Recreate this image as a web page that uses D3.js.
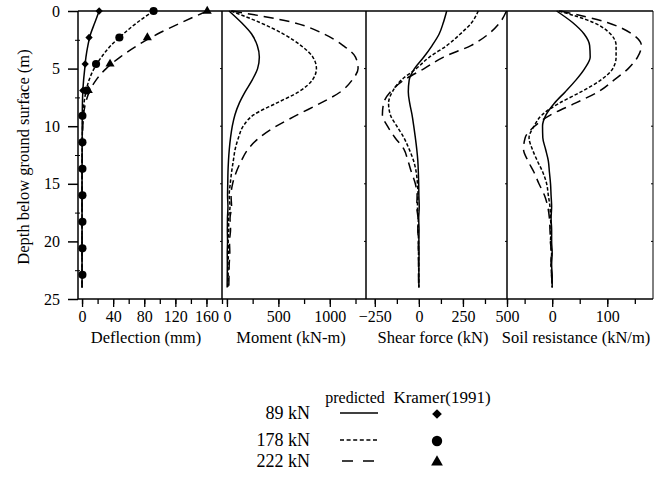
<!DOCTYPE html>
<html>
<head>
<meta charset="utf-8">
<script src="https://cdn.jsdelivr.net/npm/d3@7"></script>
<style>
  body { margin: 0; background: #fff; }
</style>
</head>
<body>
<svg id="chart" width="670" height="481"></svg>
<script>
// Depth (m) of the predicted profiles
const depths = [0, 1, 2, 3, 4, 5, 6, 7, 8, 9, 10, 11, 12, 13, 14, 15, 16, 17, 18, 19, 20, 21, 22, 23, 24];

// Deflection (mm)
const defl89 = [22, 16.5, 11, 7.5, 5, 3.5, 2, 1, 0.5, 0.3, 0.2, 0.2, 0.1, 0.1, 0, 0, 0, 0, 0, 0, 0, 0, 0, 0, 0];
const defl178 = [92, 71, 53, 37, 25, 15.5, 9, 5, 2.5, 1.2, 0.6, 0.3, 0.2, 0.1, 0, 0, 0, 0, 0, 0, 0, 0, 0, 0, 0];
const defl222 = [161, 128, 97, 71, 49, 31, 18, 9.5, 4.5, 2, 1, 0.5, 0.3, 0.2, 0.1, 0, 0, 0, 0, 0, 0, 0, 0, 0, 0];

// Moment (kN-m)
const mom89 = [20, 140, 240, 295, 315, 298, 245, 178, 120, 78, 52, 35, 23, 15, 10, 8, 6, 10, 5, 4, 6, 3, 4, 3, 2];
const mom178 = [40, 320, 550, 720, 835, 870, 830, 700, 480, 262, 158, 112, 80, 62, 45, 32, 22, 30, 15, 18, 12, 15, 10, 12, 8];
const mom222 = [50, 645, 943, 1130, 1250, 1275, 1217, 1107, 910, 688, 480, 315, 205, 140, 90, 55, 40, 45, 30, 35, 25, 28, 22, 20, 18];

// Shear force (kN)
const shear89 = [158, 139, 115, 75, 28, -25, -55, -60, -52, -39, -29, -20, -12, -6, -3, -1, 0, 2, -1, 1, 0, 1, 0, 0, 0];
const shear178 = [337, 300, 235, 158, 60, -15, -100, -150, -172, -162, -125, -85, -55, -30, -15, -8, -5, -8, -3, -4, -2, -2, -1, -1, 0];
const shear222 = [497, 460, 395, 295, 140, 30, -85, -160, -200, -207, -178, -135, -85, -62, -42, -20, -10, -12, -5, -6, -3, -3, -2, -2, -1];

// Soil resistance (kN/m)
const soil89 = [8, 37, 58, 68, 69, 59, 43, 24, 4, -11, -17.5, -17, -12, -7, -5, -3, -2, -1, -2, -1, -1, 0, -1, 0, 0];
const soil178 = [12, 75, 106, 116, 116, 110, 88, 53, 13, -18, -33, -42, -36, -27, -17, -10, -7, -4, -3, -2, -3, -1, -2, -1, 0];
const soil222 = [15, 100, 145, 162, 155, 138, 112, 84, 42, -2, -32, -49, -52, -44, -33, -24, -14, -8, -5, -4, -3, -2, -2, -1, 0];

// Kramer (1991) measured deflections
const kramerDepths = [0, 2.3, 4.6, 6.9, 9.1, 11.4, 13.7, 16.0, 18.3, 20.6, 22.9];
const kramer89 = [22, 9, 4, 1];
const kramer178 = [92, 48, 18, 6, 0.5, 0.5, 0.5, 0.5, 0.5, 0.5, 0.5];
const kramer222 = [161, 84, 36, 8];

const loads = ["89 kN", "178 kN", "222 kN"];
const depthTicks = [0, 5, 10, 15, 20, 25];

const serif = "'Liberation Serif', 'DejaVu Serif', 'Times New Roman', serif";

const svg = d3.select("#chart").attr("font-family", serif);
const plotTop = 11, plotBottom = 299;

const y = d3.scaleLinear().domain([0, 25]).range([plotTop, plotBottom]);

const dashes = [null, "3.5,2", "10,6"];

const panels = [
  { x0: 78, x1: 222, domain: [-5.2, 180], ticks: d3.range(0, 181, 20), labels: [0, 40, 80, 120, 160],
    title: "Deflection (mm)", titleX: 146, series: [defl89, defl178, defl222] },
  { x0: 222, x1: 366, domain: [-48, 1352], ticks: d3.range(0, 1251, 250), labels: [0, 500, 1000],
    title: "Moment (kN-m)", titleX: 291, series: [mom89, mom178, mom222] },
  { x0: 366, x1: 507, domain: [-300, 500], ticks: d3.range(-250, 501, 125), labels: [-250, 0, 250, 500],
    title: "Shear force (kN)", titleX: 433, series: [shear89, shear178, shear222] },
  { x0: 507, x1: 653, domain: [-82, 183], ticks: [-50, 0, 50, 100, 150], labels: [0, 100],
    title: "Soil resistance (kN/m)", titleX: 576, series: [soil89, soil178, soil222] }
];

const line = d3.line().curve(d3.curveMonotoneY);

panels.forEach(p => {
  p.x = d3.scaleLinear().domain(p.domain).range([p.x0, p.x1]);

  // predicted curves
  p.series.forEach((vals, k) => {
    svg.append("path")
      .attr("d", line(depths.map((d, i) => [p.x(vals[i]), y(d)])))
      .attr("fill", "none")
      .attr("stroke", "#000")
      .attr("stroke-width", 1.5)
      .attr("stroke-dasharray", dashes[k]);
  });

  // minor and labelled ticks under the panel
  const minor = svg.append("g").attr("transform", `translate(0,${plotBottom})`)
    .call(d3.axisBottom(p.x).tickValues(p.ticks).tickSize(5).tickFormat(""));
  minor.select(".domain").remove();
  const major = svg.append("g").attr("transform", `translate(0,${plotBottom})`)
    .call(d3.axisBottom(p.x).tickValues(p.labels).tickSize(8).tickPadding(4).tickFormat(d3.format("d")))
    .attr("font-family", serif).attr("font-size", 16);
  major.select(".domain").remove();
  svg.selectAll(".tick line").attr("stroke-width", 1.3);
  major.selectAll("text").attr("fill", "#000");

  svg.append("text")
    .attr("x", p.titleX).attr("y", 343)
    .attr("text-anchor", "middle")
    .attr("font-size", 16.5)
    .text(p.title);

  // small marks on the panel's right edge
  [5, 10, 15, 20].forEach(d => {
    svg.append("line")
      .attr("x1", p.x1 - 2).attr("x2", p.x1)
      .attr("y1", y(d)).attr("y2", y(d))
      .attr("stroke", "#000").attr("stroke-width", 1);
  });
});

// Kramer markers (deflection panel)
const xd = panels[0].x;
const symDiamond = d3.symbol().type(d3.symbolDiamond2).size(34);
const symCircle = d3.symbol().type(d3.symbolCircle).size(52);
const symTriangle = d3.symbol().type(d3.symbolTriangle).size(36);

kramer89.forEach((v, i) => {
  svg.append("path").attr("d", symDiamond())
    .attr("transform", `translate(${xd(v)},${y(kramerDepths[i])})`);
});
kramer222.forEach((v, i) => {
  svg.append("path").attr("d", symTriangle())
    .attr("transform", `translate(${xd(v)},${y(kramerDepths[i])})`);
});
kramer178.forEach((v, i) => {
  svg.append("path").attr("d", symCircle())
    .attr("transform", `translate(${xd(v)},${y(kramerDepths[i])})`);
});

// frame
svg.append("line").attr("x1", 78).attr("x2", 653).attr("y1", plotTop).attr("y2", plotTop)
  .attr("stroke", "#000").attr("stroke-width", 1.5);
svg.append("line").attr("x1", 78).attr("x2", 653).attr("y1", plotBottom).attr("y2", plotBottom)
  .attr("stroke", "#000").attr("stroke-width", 1.5);
[78, 222, 366, 507, 653].forEach(xv => {
  svg.append("line").attr("x1", xv).attr("x2", xv).attr("y1", plotTop).attr("y2", plotBottom)
    .attr("stroke", "#000").attr("stroke-width", xv === 653 ? 1 : 1.5);
});

// depth axis
const yAxis = svg.append("g").attr("transform", "translate(78,0)")
  .call(d3.axisLeft(y).tickValues(depthTicks).tickSize(10).tickPadding(8))
  .attr("font-family", serif).attr("font-size", 16);
yAxis.select(".domain").remove();
yAxis.selectAll("line").attr("stroke-width", 1.5);

const yMinor = svg.append("g").attr("transform", "translate(80,0)")
  .call(d3.axisLeft(y).tickValues([2.5, 7.5, 12.5, 17.5, 22.5]).tickSize(5).tickFormat(""));
yMinor.select(".domain").remove();

svg.append("text")
  .attr("transform", "translate(23,157) rotate(-90)")
  .attr("text-anchor", "middle")
  .attr("dy", "0.35em")
  .attr("font-size", 16.5)
  .text("Depth below ground surface (m)");

// legend
svg.append("text").attr("x", 355).attr("y", 403).attr("text-anchor", "middle")
  .attr("font-size", 16).text("predicted");
svg.append("text").attr("x", 442).attr("y", 403).attr("text-anchor", "middle")
  .attr("font-size", 17).text("Kramer(1991)");

const legendY = [413, 440, 461];
const legendSyms = [
  d3.symbol().type(d3.symbolDiamond2).size(60),
  d3.symbol().type(d3.symbolCircle).size(85),
  d3.symbol().type(d3.symbolTriangle).size(60)
];
loads.forEach((lab, k) => {
  svg.append("text").attr("x", 310).attr("y", legendY[k]).attr("dy", "0.35em")
    .attr("text-anchor", "end").attr("font-size", 18).text(lab);
  svg.append("line")
    .attr("x1", k === 2 ? 342 : 340).attr("x2", k === 2 ? 375 : 378)
    .attr("y1", legendY[k]).attr("y2", legendY[k])
    .attr("stroke", "#000").attr("stroke-width", 1.6)
    .attr("stroke-dasharray", k === 0 ? null : (k === 1 ? "4,2.6" : "11,10"));
  svg.append("path").attr("d", legendSyms[k]())
    .attr("transform", `translate(437,${legendY[k] + 1})`);
});
</script>
</body>
</html>
